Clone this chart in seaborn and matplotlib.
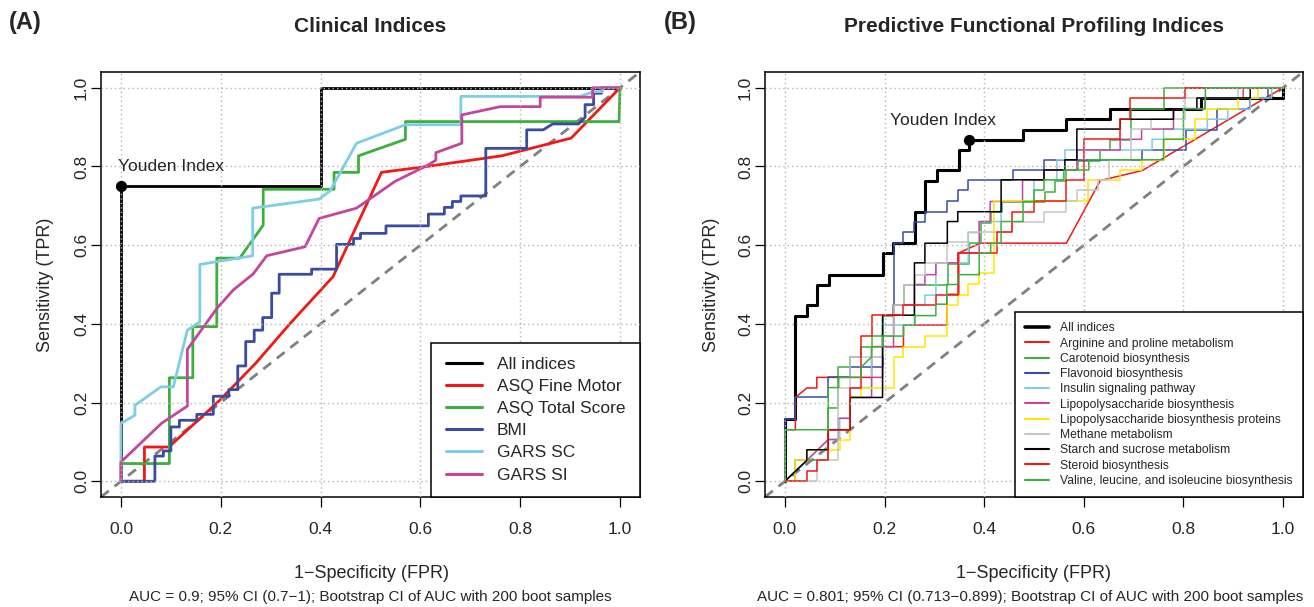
import matplotlib
matplotlib.use("Agg")
import matplotlib.pyplot as plt
from matplotlib.lines import Line2D
import pandas as pd
import seaborn as sns

# ---------------- Panel A : clinical indices (FPR, TPR vertices) ----------------
a_all = [(0, 0), (0, 0.75), (0.4, 0.75), (0.4, 1.0), (1, 1)]
a_fine_motor = [(0, 0), (0.047, 0), (0.047, 0.087), (0.096, 0.087), (0.198, 0.206), (0.27, 0.30),
                (0.339, 0.401), (0.425, 0.52), (0.522, 0.785), (0.613, 0.80), (0.763, 0.827),
                (0.902, 0.872), (1, 1)]
a_total = [(0, 0), (0, 0.045), (0.097, 0.045), (0.097, 0.263), (0.144, 0.263), (0.144, 0.393),
           (0.192, 0.393), (0.192, 0.567), (0.238, 0.567), (0.285, 0.651), (0.285, 0.742),
           (0.427, 0.742), (0.427, 0.785), (0.476, 0.785), (0.476, 0.827), (0.570, 0.869),
           (0.570, 0.914), (0.998, 0.914), (1.0, 1.0)]
a_bmi = [(0, 0), (0.068, 0), (0.068, 0.064), (0.085, 0.064), (0.085, 0.077), (0.100, 0.077),
         (0.100, 0.138), (0.117, 0.138), (0.117, 0.155), (0.152, 0.155), (0.152, 0.170),
         (0.185, 0.170), (0.185, 0.216), (0.216, 0.216), (0.216, 0.233), (0.234, 0.233),
         (0.234, 0.293), (0.250, 0.293), (0.250, 0.355), (0.267, 0.355), (0.267, 0.384),
         (0.284, 0.384), (0.284, 0.416), (0.302, 0.416), (0.302, 0.478), (0.317, 0.478),
         (0.317, 0.526), (0.382, 0.526), (0.382, 0.539), (0.432, 0.539), (0.432, 0.602),
         (0.466, 0.602), (0.466, 0.617), (0.480, 0.617), (0.480, 0.630), (0.531, 0.630),
         (0.531, 0.649), (0.616, 0.649), (0.616, 0.679), (0.648, 0.679), (0.648, 0.696),
         (0.664, 0.696), (0.664, 0.711), (0.681, 0.711), (0.681, 0.725), (0.731, 0.725),
         (0.731, 0.846), (0.813, 0.846), (0.813, 0.893), (0.846, 0.893), (0.865, 0.908),
         (0.917, 0.908), (0.930, 0.925), (0.930, 0.957), (0.947, 0.957), (0.947, 0.986),
         (0.963, 0.986), (0.963, 1.0), (1, 1)]
a_gars_sc = [(0, 0), (0, 0.147), (0.028, 0.168), (0.028, 0.193), (0.080, 0.240), (0.105, 0.240),
             (0.133, 0.384), (0.158, 0.405), (0.158, 0.551), (0.264, 0.573), (0.264, 0.694),
             (0.397, 0.717), (0.419, 0.738), (0.472, 0.859), (0.570, 0.906), (0.681, 0.906),
             (0.681, 0.978), (0.92, 0.978), (0.947, 0.99), (0.965, 0.99), (0.965, 1.0), (1, 1)]
a_gars_si = [(0, 0), (0, 0.049), (0.081, 0.147), (0.133, 0.191), (0.133, 0.335), (0.192, 0.439),
             (0.225, 0.486), (0.265, 0.527), (0.292, 0.573), (0.369, 0.596), (0.397, 0.668),
             (0.472, 0.694), (0.549, 0.762), (0.616, 0.804), (0.631, 0.816), (0.631, 0.835),
             (0.683, 0.859), (0.683, 0.931), (0.760, 0.952), (0.840, 0.952), (0.840, 0.976),
             (0.945, 0.976), (0.945, 1.0), (1, 1)]
a_labels = ["All indices", "ASQ Fine Motor", "ASQ Total Score", "BMI", "GARS SC", "GARS SI"]
a_curves = [a_all, a_fine_motor, a_total, a_bmi, a_gars_sc, a_gars_si]
a_colors = ["#000000", "#F01818", "#3CAF3C", "#3A4BA0", "#7DCDE4", "#C2469C"]
a_youden = (0.0, 0.75)

# ---------------- Panel B : predictive functional profiling ----------------
b_all = [(0, 0), (0, 0.158), (0.021, 0.158), (0.021, 0.421), (0.044, 0.421), (0.044, 0.447),
         (0.064, 0.447), (0.064, 0.5), (0.089, 0.5), (0.089, 0.525), (0.196, 0.525), (0.196, 0.58),
         (0.217, 0.58), (0.217, 0.605), (0.261, 0.605), (0.261, 0.684), (0.281, 0.684),
         (0.281, 0.763), (0.305, 0.763), (0.305, 0.79), (0.349, 0.79), (0.349, 0.842),
         (0.369, 0.842), (0.369, 0.868), (0.478, 0.868), (0.478, 0.893), (0.565, 0.893),
         (0.565, 0.921), (0.653, 0.921), (0.653, 0.947), (0.835, 0.947), (0.835, 0.974),
         (1.0, 0.974), (1.0, 1.0)]
b_arginine = [(0, 0), (0, 0.131), (0.021, 0.131), (0.021, 0.213), (0.044, 0.237), (0.064, 0.237),
              (0.064, 0.264), (0.174, 0.264), (0.174, 0.342), (0.238, 0.342), (0.238, 0.397),
              (0.325, 0.397), (0.325, 0.475), (0.349, 0.475), (0.349, 0.58), (0.392, 0.605),
              (0.565, 0.605), (0.633, 0.764), (0.718, 0.79), (0.936, 0.953), (1, 1)]
b_carotenoid = [(0, 0), (0.021, 0), (0.021, 0.053), (0.087, 0.053), (0.087, 0.185), (0.107, 0.185),
                (0.107, 0.29), (0.131, 0.29), (0.131, 0.316), (0.153, 0.316), (0.153, 0.342),
                (0.174, 0.342), (0.174, 0.369), (0.196, 0.369), (0.196, 0.421), (0.217, 0.421),
                (0.217, 0.447), (0.24, 0.447), (0.24, 0.5), (0.328, 0.5), (0.328, 0.553),
                (0.369, 0.553), (0.369, 0.605), (0.394, 0.605), (0.394, 0.656), (0.413, 0.656),
                (0.413, 0.684), (0.435, 0.684), (0.435, 0.709), (0.522, 0.709), (0.522, 0.735),
                (0.543, 0.735), (0.543, 0.763), (0.565, 0.763), (0.565, 0.79), (0.588, 0.79),
                (0.588, 0.815), (0.633, 0.815), (0.633, 0.841), (0.653, 0.841), (0.653, 0.868),
                (0.695, 0.868), (0.695, 0.947), (0.761, 0.947), (0.761, 1.0), (1, 1)]
b_flavonoid = [(0, 0), (0, 0.158), (0.021, 0.158), (0.021, 0.213), (0.087, 0.213), (0.087, 0.264),
               (0.131, 0.264), (0.131, 0.29), (0.196, 0.29), (0.196, 0.369), (0.218, 0.369),
               (0.218, 0.605), (0.238, 0.605), (0.238, 0.634), (0.26, 0.634), (0.26, 0.66),
               (0.281, 0.66), (0.281, 0.685), (0.325, 0.685), (0.325, 0.711), (0.347, 0.711),
               (0.347, 0.74), (0.367, 0.74), (0.367, 0.766), (0.457, 0.766), (0.457, 0.791),
               (0.52, 0.791), (0.52, 0.817), (0.716, 0.817), (0.716, 0.842), (0.806, 0.842),
               (0.806, 0.893), (0.867, 0.893), (0.867, 0.946), (0.934, 0.946), (0.934, 0.974),
               (0.97, 0.974), (0.97, 1.0), (1, 1)]
b_insulin = [(0, 0), (0.021, 0.027), (0.044, 0.053), (0.087, 0.106), (0.11, 0.106), (0.11, 0.16),
             (0.131, 0.16), (0.131, 0.238), (0.174, 0.238), (0.174, 0.316), (0.196, 0.316),
             (0.196, 0.397), (0.26, 0.397), (0.26, 0.448), (0.281, 0.448), (0.281, 0.473),
             (0.303, 0.473), (0.303, 0.555), (0.368, 0.555), (0.368, 0.632), (0.39, 0.632),
             (0.39, 0.66), (0.434, 0.66), (0.434, 0.711), (0.50, 0.711), (0.50, 0.766),
             (0.546, 0.766), (0.546, 0.817), (0.562, 0.817), (0.562, 0.842), (0.737, 0.842),
             (0.737, 0.869), (0.76, 0.869), (0.76, 0.895), (0.848, 0.895), (0.848, 0.92),
             (0.889, 0.92), (0.889, 0.946), (0.934, 0.946), (0.934, 0.974), (0.977, 0.974),
             (0.977, 1.0), (1, 1)]
b_lps = [(0, 0), (0.044, 0.053), (0.087, 0.106), (0.107, 0.106), (0.107, 0.16), (0.131, 0.16),
         (0.131, 0.213), (0.174, 0.213), (0.174, 0.264), (0.196, 0.264), (0.196, 0.342),
         (0.218, 0.342), (0.218, 0.448), (0.26, 0.448), (0.26, 0.5), (0.281, 0.5), (0.281, 0.525),
         (0.303, 0.525), (0.303, 0.555), (0.347, 0.555), (0.347, 0.58), (0.39, 0.58), (0.39, 0.66),
         (0.412, 0.66), (0.412, 0.711), (0.477, 0.711), (0.477, 0.766), (0.52, 0.766),
         (0.52, 0.791), (0.586, 0.791), (0.586, 0.842), (0.673, 0.842), (0.673, 0.869),
         (0.716, 0.869), (0.716, 0.895), (0.78, 0.895), (0.78, 0.946), (0.843, 0.946),
         (0.843, 0.974), (0.92, 0.974), (0.92, 1.0), (1, 1)]
b_lps_prot = [(0, 0), (0.021, 0), (0.021, 0.053), (0.044, 0.053), (0.044, 0.08), (0.11, 0.08),
              (0.11, 0.106), (0.131, 0.106), (0.131, 0.213), (0.153, 0.213), (0.153, 0.238),
              (0.218, 0.238), (0.218, 0.316), (0.238, 0.316), (0.238, 0.342), (0.281, 0.342),
              (0.281, 0.369), (0.325, 0.369), (0.325, 0.448), (0.347, 0.448), (0.347, 0.473),
              (0.368, 0.473), (0.368, 0.501), (0.39, 0.501), (0.39, 0.53), (0.42, 0.53),
              (0.42, 0.711), (0.608, 0.711), (0.608, 0.766), (0.673, 0.766), (0.673, 0.791),
              (0.716, 0.791), (0.716, 0.817), (0.76, 0.817), (0.76, 0.869), (0.823, 0.869),
              (0.823, 0.92), (0.847, 0.92), (0.847, 0.946), (0.91, 0.946), (0.91, 0.974),
              (0.95, 0.974), (0.95, 1.0), (1, 1)]
b_methane = [(0, 0), (0.065, 0), (0.065, 0.053), (0.107, 0.053), (0.107, 0.238), (0.131, 0.238),
             (0.131, 0.316), (0.196, 0.316), (0.196, 0.369), (0.218, 0.369), (0.218, 0.448),
             (0.24, 0.448), (0.24, 0.5), (0.261, 0.5), (0.261, 0.525), (0.281, 0.525),
             (0.281, 0.555), (0.326, 0.555), (0.326, 0.607), (0.368, 0.607), (0.368, 0.633),
             (0.455, 0.633), (0.455, 0.66), (0.52, 0.66), (0.52, 0.685), (0.565, 0.685),
             (0.565, 0.711), (0.586, 0.711), (0.586, 0.74), (0.629, 0.74), (0.629, 0.766),
             (0.651, 0.766), (0.651, 0.817), (0.695, 0.817), (0.695, 0.895), (0.735, 0.895),
             (0.735, 0.92), (0.803, 0.92), (0.803, 0.974), (0.91, 0.974), (0.91, 1.0), (1, 1)]
b_starch = [(0, 0), (0.044, 0.053), (0.044, 0.08), (0.087, 0.08), (0.087, 0.131), (0.131, 0.131),
            (0.131, 0.213), (0.196, 0.213), (0.196, 0.422), (0.26, 0.422), (0.26, 0.555),
            (0.281, 0.555), (0.281, 0.605), (0.326, 0.605), (0.326, 0.66), (0.347, 0.66),
            (0.347, 0.685), (0.434, 0.685), (0.434, 0.766), (0.52, 0.766), (0.52, 0.791),
            (0.562, 0.791), (0.562, 0.817), (0.586, 0.817), (0.586, 0.895), (0.673, 0.895),
            (0.673, 0.92), (0.78, 0.92), (0.78, 0.946), (0.827, 0.946), (0.827, 0.974),
            (0.934, 0.974), (0.934, 1.0), (1, 1)]
b_steroid = [(0, 0), (0.044, 0), (0.044, 0.027), (0.064, 0.027), (0.064, 0.053), (0.087, 0.053),
             (0.087, 0.131), (0.131, 0.131), (0.131, 0.238), (0.153, 0.238), (0.153, 0.369),
             (0.174, 0.369), (0.174, 0.422), (0.238, 0.422), (0.238, 0.448), (0.303, 0.448),
             (0.303, 0.473), (0.347, 0.473), (0.347, 0.579), (0.425, 0.579), (0.425, 0.633),
             (0.455, 0.633), (0.455, 0.685), (0.499, 0.685), (0.499, 0.711), (0.564, 0.711),
             (0.564, 0.766), (0.6, 0.766), (0.6, 0.869), (0.673, 0.869), (0.673, 0.92),
             (0.693, 0.92), (0.693, 0.974), (0.803, 0.974), (0.803, 1.0), (1, 1)]
b_valine = [(0, 0), (0, 0.131), (0.087, 0.131), (0.087, 0.238), (0.108, 0.238), (0.108, 0.264),
            (0.153, 0.264), (0.153, 0.29), (0.174, 0.316), (0.174, 0.342), (0.196, 0.342),
            (0.196, 0.369), (0.238, 0.369), (0.238, 0.397), (0.261, 0.397), (0.261, 0.421),
            (0.303, 0.421), (0.303, 0.45), (0.325, 0.45), (0.325, 0.5), (0.347, 0.5),
            (0.347, 0.525), (0.39, 0.525), (0.39, 0.58), (0.413, 0.58), (0.413, 0.605),
            (0.434, 0.605), (0.434, 0.66), (0.478, 0.66), (0.478, 0.711), (0.5, 0.711),
            (0.5, 0.74), (0.52, 0.74), (0.52, 0.766), (0.56, 0.766), (0.56, 0.791), (0.61, 0.791),
            (0.61, 0.817), (0.76, 0.817), (0.76, 0.869), (0.80, 0.869), (0.80, 0.947),
            (0.844, 0.947), (0.844, 1.0), (1, 1)]
b_labels = ["All indices", "Arginine and proline metabolism", "Carotenoid biosynthesis",
            "Flavonoid biosynthesis", "Insulin signaling pathway", "Lipopolysaccharide biosynthesis",
            "Lipopolysaccharide biosynthesis proteins", "Methane metabolism",
            "Starch and sucrose metabolism", "Steroid biosynthesis",
            "Valine, leucine, and isoleucine biosynthesis"]
b_curves = [b_all, b_arginine, b_carotenoid, b_flavonoid, b_insulin, b_lps, b_lps_prot,
            b_methane, b_starch, b_steroid, b_valine]
b_colors = ["#000000", "#F01818", "#3CAF3C", "#3A4BA0", "#7DCDE4", "#C2469C", "#FFE600",
            "#C6C6C6", "#000000", "#F01818", "#3CAF3C"]
b_youden = (0.369, 0.868)

ticks = [0.0, 0.2, 0.4, 0.6, 0.8, 1.0]
tick_labels = ["0.0", "0.2", "0.4", "0.6", "0.8", "1.0"]


def to_frame(curves, labels):
    rows = []
    for lab, pts in zip(labels, curves):
        for i, (x, y) in enumerate(pts):
            rows.append({"curve": lab, "order": i, "fpr": x, "tpr": y})
    return pd.DataFrame(rows)


df_a = to_frame(a_curves, a_labels)
df_b = to_frame(b_curves, b_labels)

sns.set_theme(style="white")
plt.rcParams["font.family"] = ["Liberation Sans", "DejaVu Sans"]

W, H = 1314, 607
fig = plt.figure(figsize=(W / 100, H / 100), dpi=100)
fig.patch.set_facecolor("white")

ax_top, ax_bot = 72, 497
axA = fig.add_axes([101 / W, 1 - ax_bot / H, 539 / W, (ax_bot - ax_top) / H])
axB = fig.add_axes([765 / W, 1 - ax_bot / H, 538 / W, (ax_bot - ax_top) / H])


def style_axes(ax):
    ax.set_xlim(-0.04, 1.04)
    ax.set_ylim(-0.04, 1.04)
    ax.set_xticks(ticks)
    ax.set_yticks(ticks)
    ax.set_xticklabels(tick_labels, fontsize=12.5)
    ax.set_yticklabels(tick_labels, fontsize=12.5, rotation=90, va="center")
    ax.tick_params(axis="both", direction="out", length=7.2, width=0.9, color="black",
                   bottom=True, left=True, top=False, right=False)
    ax.tick_params(axis="x", pad=11)
    ax.tick_params(axis="y", pad=1.5)
    for s in ax.spines.values():
        s.set_visible(True)
        s.set_color("black")
        s.set_linewidth(1.1)
    ax.set_axisbelow(False)
    ax.grid(True, linestyle=(0, (1, 2.2)), color="#B4B4B4", linewidth=1.0)
    ax.plot([-0.04, 1.04], [-0.04, 1.04], color="#808080", lw=2.0, dashes=(3.6, 2.6), zorder=1.5)


def draw_panel(ax, df, labels, colors, widths):
    for lab, col, lw in zip(labels, colors, widths):
        sub = df[df["curve"] == lab].sort_values("order")
        sns.lineplot(data=sub, x="fpr", y="tpr", sort=False, estimator=None, color=col,
                     linewidth=lw, ax=ax, legend=False, zorder=2)
    ax.set_xlabel("")
    ax.set_ylabel("")


# ---- Panel A ----
style_axes(axA)
a_widths = [2.0] * len(a_labels)
draw_panel(axA, df_a, a_labels, a_colors, a_widths)
axA.scatter([a_youden[0]], [a_youden[1]], s=50, color="black", zorder=3)
axA.text(-0.006, 0.799, "Youden Index", fontsize=12.5, ha="left", va="center", zorder=3)
handlesA = [Line2D([0], [0], color=c, lw=2.2) for c in a_colors]
legA = axA.legend(handlesA, a_labels, loc="lower right", bbox_to_anchor=(1, 0), borderaxespad=0,
                  fontsize=12.5, frameon=True, fancybox=False, framealpha=1, edgecolor="black",
                  handlelength=2.1, handletextpad=0.85, borderpad=0.83, labelspacing=0.40)
legA.get_frame().set_linewidth(1.1)
legA.set_zorder(5)

# ---- Panel B ----
style_axes(axB)
b_widths = [2.2] + [1.1] * (len(b_labels) - 1)
draw_panel(axB, df_b, b_labels, b_colors, b_widths)
axB.scatter([b_youden[0]], [b_youden[1]], s=50, color="black", zorder=3)
axB.text(0.211, 0.917, "Youden Index", fontsize=12.5, ha="left", va="center", zorder=3)
handlesB = [Line2D([0], [0], color=c, lw=w + 0.4) for c, w in zip(b_colors, b_widths)]
legB = axB.legend(handlesB, b_labels, loc="lower right", bbox_to_anchor=(1, 0), borderaxespad=0,
                  fontsize=8.7, frameon=True, fancybox=False, framealpha=1, edgecolor="black",
                  handlelength=2.0, handletextpad=0.9, borderpad=0.83, labelspacing=0.27)
legB.get_frame().set_linewidth(1.1)
legB.set_zorder(5)


def ftext(px, py, s, **kw):
    fig.text(px / W, 1 - py / H, s, ha="center", va="center", **kw)


ftext(25, 22, "(A)", fontsize=17, fontweight="bold")
ftext(680, 22, "(B)", fontsize=17, fontweight="bold")
ftext(370, 27, "Clinical Indices", fontsize=15, fontweight="bold")
ftext(1034, 27, "Predictive Functional Profiling Indices", fontsize=15, fontweight="bold")
ftext(371, 573, "1\u2212Specificity (FPR)", fontsize=13)
ftext(1034, 573, "1\u2212Specificity (FPR)", fontsize=13)
ftext(45, 285, "Sensitivity (TPR)", fontsize=13, rotation=90)
ftext(712, 285, "Sensitivity (TPR)", fontsize=13, rotation=90)
ftext(370, 597, "AUC = 0.9; 95% CI (0.7\u22121); Bootstrap CI of AUC with 200 boot samples",
      fontsize=11)
ftext(1030, 597, "AUC = 0.801; 95% CI (0.713\u22120.899); Bootstrap CI of AUC with 200 boot samples",
      fontsize=11)

fig.savefig("out.png", dpi=100, facecolor="white")
